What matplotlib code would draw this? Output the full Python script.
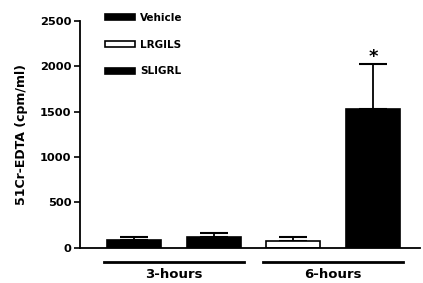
from matplotlib import pyplot as plt
from matplotlib.patches import Patch

# data
groups = ['3-hours', '6-hours']
bar_labels = ['Vehicle', 'SLIGRL', 'LRGILS', 'SLIGRL']
bar_values = [87, 120, 80, 1530]
bar_errors = [33, 43, 45, 495]
bar_colors = ['black', 'black', 'white', 'black']
legend_names = ['Vehicle', 'LRGILS', 'SLIGRL']
legend_colors = ['black', 'white', 'black']
yticks = [0, 500, 1000, 1500, 2000, 2500]

fig = plt.figure(figsize=(4.23, 2.83), dpi=100)
ax = fig.add_axes([0.189, 0.124, 0.804, 0.803])

x = list(range(len(bar_values)))
ax.bar(x, bar_values, width=0.68, color=bar_colors, edgecolor='black',
       linewidth=1.2, zorder=2)
ax.errorbar(x, bar_values, yerr=[[0] * len(bar_errors), bar_errors],
            fmt='none', ecolor='black', elinewidth=1.3, capsize=10,
            capthick=1.5, zorder=1)

# significance star on the last bar
ax.text(x[3], bar_values[3] + bar_errors[3] + 70, '*', ha='center',
        va='center', fontsize=13, fontweight='bold')

ax.set_xlim(-0.68, 3.59)
ax.set_ylim(0, 2500)
ax.set_yticks(yticks)
ax.set_yticklabels([str(t) for t in yticks], fontsize=8.2, fontweight='bold')
ax.set_xticks([])
ax.tick_params(axis='y', direction='out', length=4, width=1.2, pad=2)
ax.spines['top'].set_visible(False)
ax.spines['right'].set_visible(False)
ax.spines['left'].set_linewidth(1.3)
ax.spines['bottom'].set_linewidth(1.3)
ax.set_ylabel('51Cr-EDTA (cpm/ml)', fontsize=9, fontweight='bold',
              labelpad=9)

# group underlines and labels
trans = ax.get_xaxis_transform()
for i, g in enumerate(groups):
    c = 0.5 + 2 * i
    ax.plot([c - 0.88, c + 0.88], [-0.062, -0.062], color='black', lw=2,
            transform=trans, clip_on=False)
    ax.text(c, -0.119, g, transform=trans, ha='center', va='center',
            fontsize=9.5, fontweight='bold')

handles = [Patch(facecolor=c, edgecolor='black', linewidth=1.2)
           for c in legend_colors]
ax.legend(handles, legend_names, loc='upper left',
          bbox_to_anchor=(0.045, 1.075), frameon=False, handlelength=2.9,
          handleheight=0.5, labelspacing=1.6, handletextpad=0.5,
          prop={'size': 7.5, 'weight': 'bold'})

fig.savefig('out.png', dpi=100)
